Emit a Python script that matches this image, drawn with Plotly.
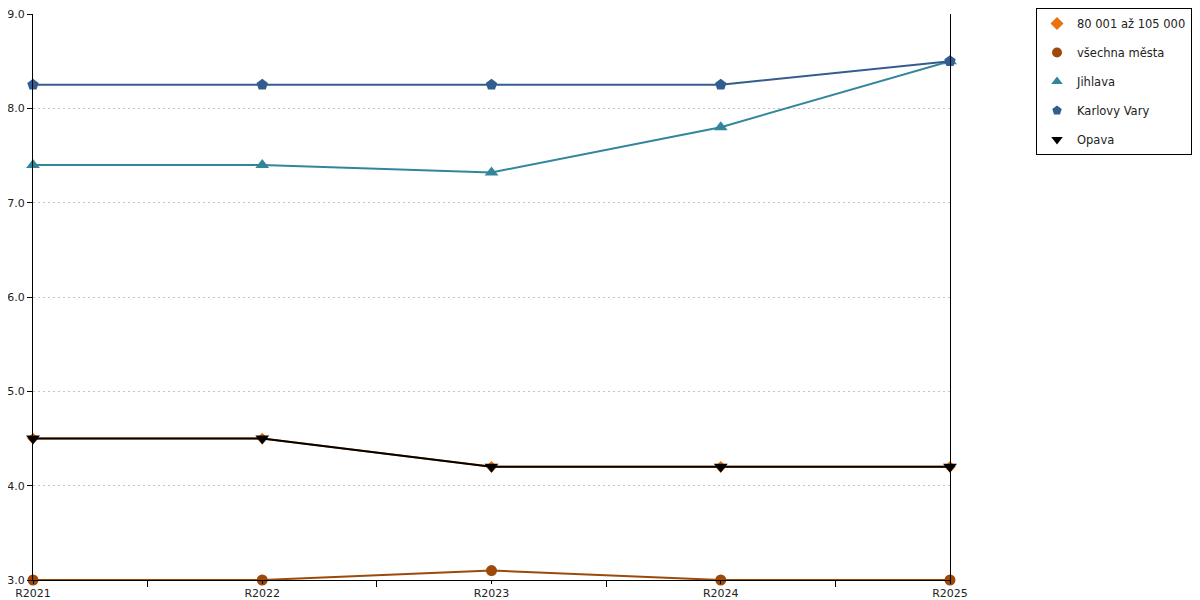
import plotly.graph_objects as go

years = ["R2021", "R2022", "R2023", "R2024", "R2025"]

# values
skupina_80_105 = [4.5, 4.5, 4.2, 4.2, 4.2]
vsechna_mesta = [3.0, 3.0, 3.1, 3.0, 3.0]
jihlava = [7.4, 7.4, 7.32, 7.8, 8.5]
karlovy_vary = [8.25, 8.25, 8.25, 8.25, 8.5]
opava = [4.5, 4.5, 4.2, 4.2, 4.2]

series = [
    ("80 001 až 105 000", skupina_80_105, "#e8730c", "diamond", 9),
    ("všechna města", vsechna_mesta, "#9c4a0b", "circle", 11),
    ("Jihlava", jihlava, "#32869c", "triangle-up", 12),
    ("Karlovy Vary", karlovy_vary, "#335d8e", "pentagon", 12),
    ("Opava", opava, "#000000", "triangle-down", 12),
]

x = list(range(len(years)))

fig = go.Figure()
for i, (name, vals, color, symbol, msize) in enumerate(series):
    fig.add_trace(go.Scatter(
        x=x, y=vals, name=name, mode="lines+markers",
        line=dict(color=color, width=2),
        marker=dict(color=color, symbol=symbol, size=msize),
        showlegend=False, cliponaxis=False,
    ))
    # marker-only entry for the legend
    fig.add_trace(go.Scatter(
        x=[None], y=[None], name=name, mode="markers",
        marker=dict(color=color, symbol=symbol, size=10),
        legendgroup="g%d" % i,
    ))

# page has an 8px body margin, so the figure is a bit smaller than the window
fig.update_layout(
    width=1192, height=592,
    plot_bgcolor="white", paper_bgcolor="white",
    font=dict(family="DejaVu Sans", size=11, color="#222222"),
    margin=dict(l=25, r=250, t=6, b=20, autoexpand=False),
    legend=dict(
        x=1.0938, y=1.0106,
        xanchor="left", yanchor="top",
        bordercolor="black", borderwidth=1,
        font=dict(size=11.5), tracegroupgap=10,
        traceorder="grouped", itemwidth=30,
    ),
)

fig.update_xaxes(
    range=[0, len(years) - 1],
    tickvals=x, ticktext=years,
    showline=True, linecolor="black", linewidth=1,
    ticks="outside", ticklen=3, tickcolor="black",
    minor=dict(tick0=0.5, dtick=1, ticks="outside", ticklen=6, tickcolor="black"),
    showgrid=False, zeroline=False, automargin=False,
    ticklabeloverflow="allow",
)
fig.update_yaxes(
    range=[3, 9], dtick=1, tickformat=".1f",
    showline=True, linecolor="black", linewidth=1, mirror=True,
    ticks="outside", ticklen=5, tickcolor="black",
    showgrid=True, gridcolor="#c4c4c4", griddash="2px,3px", gridwidth=1,
    zeroline=False, automargin=False,
    ticklabeloverflow="allow",
)

fig.write_html("out.html")
